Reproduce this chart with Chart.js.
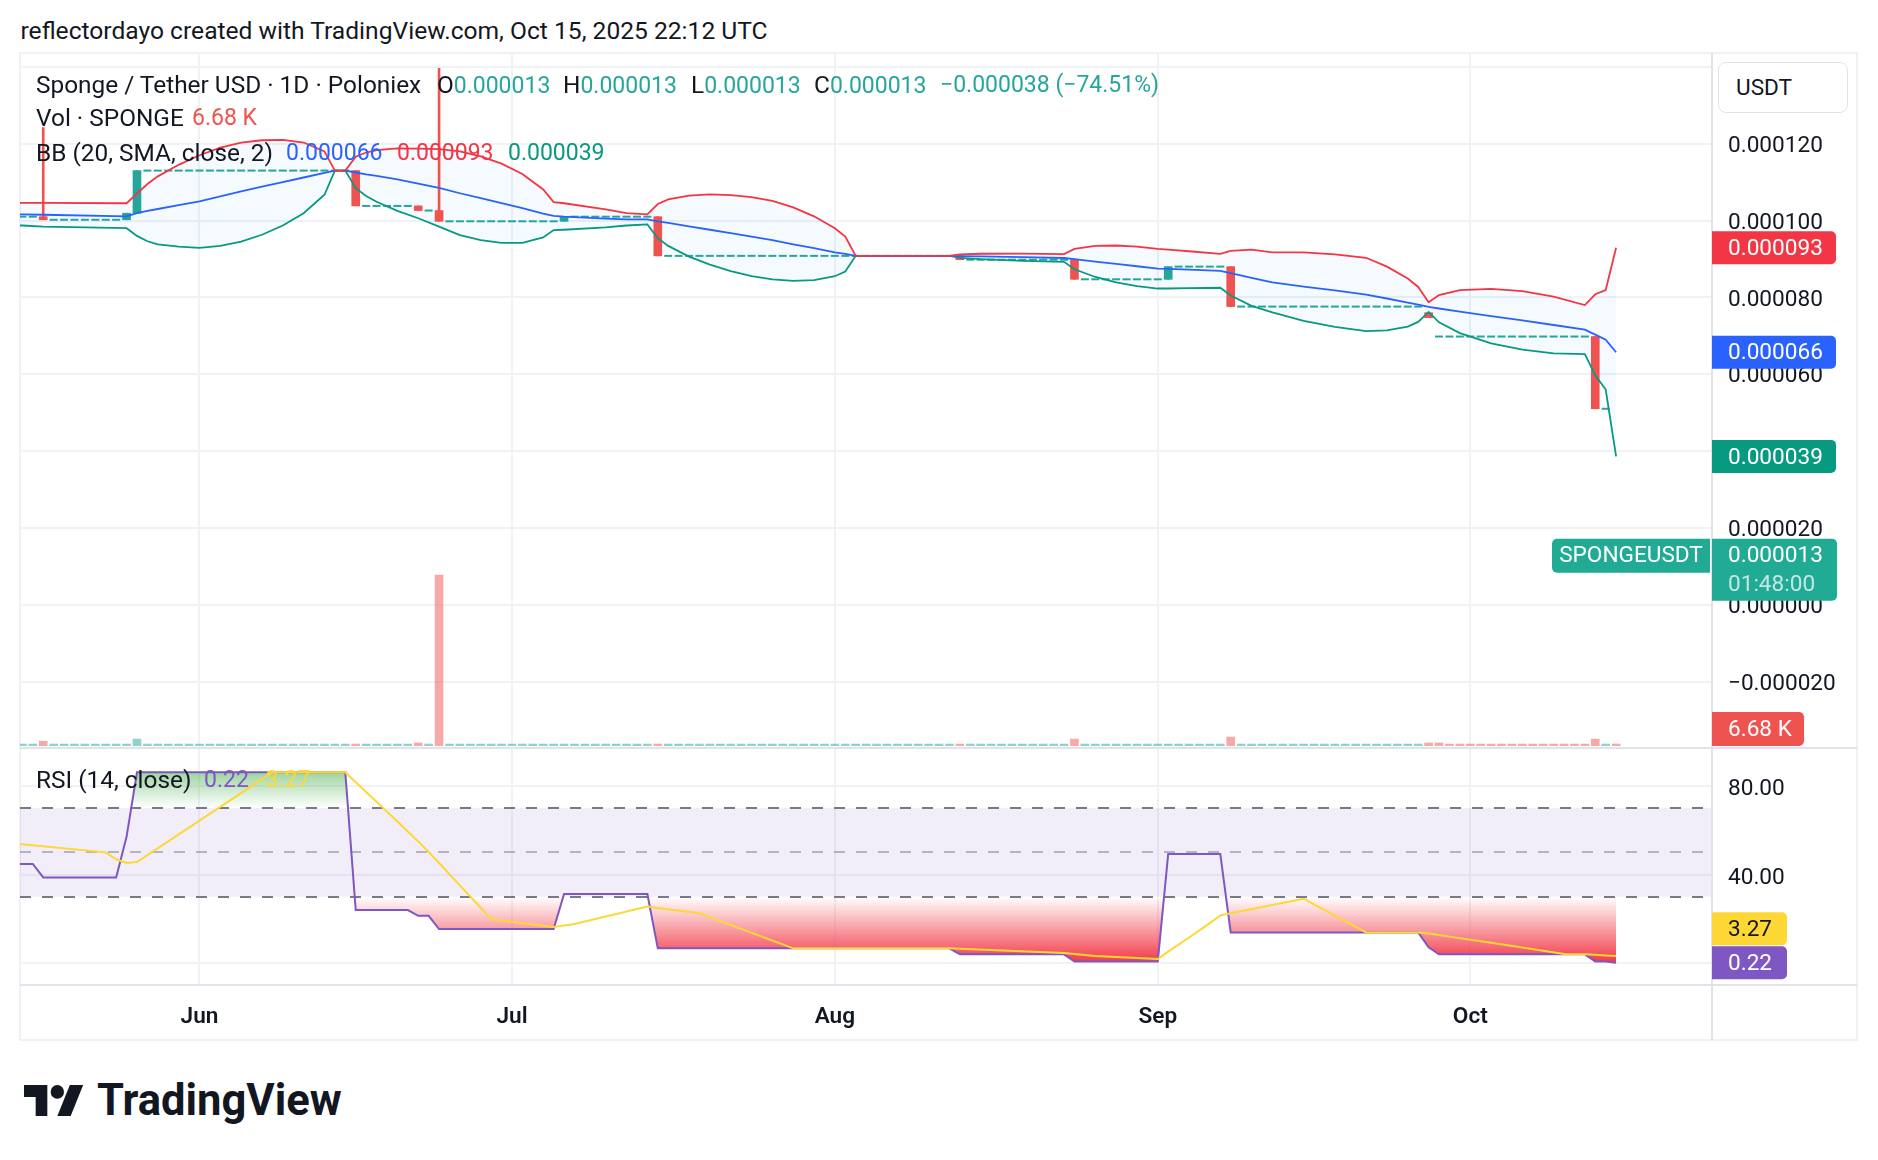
<!DOCTYPE html>
<html>
<head>
<meta charset="utf-8">
<title>SPONGEUSDT 1D</title>
<script src="https://cdn.jsdelivr.net/npm/chart.js@4.4.1/dist/chart.umd.min.js"></script>
<style>
  html, body { margin: 0; padding: 0; background: #ffffff; }
  body { position: relative; width: 1878px; height: 1160px; overflow: hidden;
         font-family: Roboto, "DejaVu Sans", sans-serif; color: #131722; }
  .t { position: absolute; white-space: nowrap; font-size: 24.4px; line-height: 28px; }
  .n { font-size: 23px; }
  .up { color: #26a69a; }
  .dn { color: #ef5350; }
  .ln { position: absolute; background: #e0e3eb; }
  .lt { position: absolute; background: #eff1f4; }
  canvas { position: absolute; }
  #usdt { position: absolute; left: 1718px; top: 62px; height: 49px; width: 111px;
          border: 1.5px solid #e0e3eb; border-radius: 8px; background: #fff;
          font-size: 22.6px; line-height: 49px; padding-left: 17px; }
  #logoText { position: absolute; left: 97px; top: 1076px; font-size: 43.5px; font-weight: 700;
              line-height: 50px; }
</style>
</head>
<body>

<!-- frame + pane separators (under the canvases) -->
<div class="lt" style="left:19px; top:52px; width:1839px; height:2px;"></div>
<div class="lt" style="left:19px; top:52px; width:1.5px; height:989px;"></div>
<div class="lt" style="left:1856px; top:52px; width:2px; height:989px;"></div>
<div class="lt" style="left:19px; top:1039px; width:1839px; height:2px;"></div>
<div class="ln" style="left:1711px; top:53px; width:2px; height:987px;"></div>
<div class="ln" style="left:20px; top:746.5px; width:1837px; height:2.5px;"></div>
<div class="ln" style="left:20px; top:984px; width:1837px; height:2px;"></div>

<canvas id="main" width="1837" height="693" style="left:20px; top:53px;"></canvas>
<canvas id="rsi" width="1837" height="291" style="left:20px; top:749px;"></canvas>

<div class="t" style="left:20.5px; top:16.5px; font-size:24.6px;">reflectordayo created with TradingView.com, Oct 15, 2025 22:12 UTC</div>

<div class="t" style="left:36px; top:71px;">Sponge / Tether USD · 1D · Poloniex</div>
<div class="t" style="left:437px; top:71px;">O<span class="up n" id="vO"></span></div>
<div class="t" style="left:563px; top:71px;">H<span class="up n" id="vH"></span></div>
<div class="t" style="left:691px; top:71px;">L<span class="up n" id="vL"></span></div>
<div class="t" style="left:814px; top:71px;">C<span class="up n" id="vC"></span></div>
<div class="t up n" style="left:940px; top:71px;" id="vChg"></div>

<div class="t" style="left:36px; top:104.3px;">Vol · SPONGE</div>
<div class="t dn n" style="left:192px; top:104.3px;" id="vVol"></div>

<div class="t" style="left:36px; top:139.3px;">BB (20, SMA, close, 2)</div>
<div class="t n" style="left:286px; top:139.3px; color:#2962ff;" id="vBasis"></div>
<div class="t n" style="left:397px; top:139.3px; color:#f23645;" id="vUpper"></div>
<div class="t n" style="left:508px; top:139.3px; color:#089981;" id="vLower"></div>

<div class="t" style="left:36px; top:766px;">RSI (14, close)</div>
<div class="t n" style="left:204px; top:766px; color:#7e57c2;" id="vRsi"></div>
<div class="t n" style="left:265.6px; top:766px; color:#fdd835;" id="vMa"></div>

<div id="usdt">USDT</div>

<svg style="position:absolute; left:24px; top:1085px;" width="60" height="31" viewBox="0 4 36 18" preserveAspectRatio="none">
  <path fill="#131722" d="M14 22H7V11H0V4h14v18z"/>
  <circle fill="#131722" cx="20" cy="8" r="4"/>
  <path fill="#131722" d="M28 22h-8l7.5-18h8L28 22z"/>
</svg>
<div id="logoText">TradingView</div>

<script>
// ----------------------------
// Data (prices in micro-USDT, i.e. 1e-6 USDT; days counted from 1 May 2025)
// ----------------------------
const firstDay = 14; // 15 May 2025

// daily closes, 15 May .. 15 Oct
const closes = [
  101.0, 101.0, 100.2, 100.2, 100.2, 100.2, 100.2, 100.2, 100.2, 100.2,   // d14-23
  101.9, 113.0, 113.0, 113.0, 113.0, 113.0, 113.0, 113.0, 113.0, 113.0,   // d24-33
  113.0, 113.0, 113.0, 113.0, 113.0, 113.0, 113.0, 113.0, 113.0, 113.0,   // d34-43
  113.0, 113.0, 103.8, 103.8, 103.8, 103.8, 103.8, 103.8, 102.6, 102.6,   // d44-53
  99.8, 99.8, 99.8, 99.8, 99.8, 99.8, 99.8, 99.8, 99.8, 99.8,             // d54-63
  99.8, 99.8, 101.0, 101.0, 101.0, 101.0, 101.0, 101.0, 101.0, 101.0,     // d64-73
  101.0, 90.8, 90.8, 90.8, 90.8, 90.8, 90.8, 90.8, 90.8, 90.8,            // d74-83
  90.8, 90.8, 90.8, 90.8, 90.8, 90.8, 90.8, 90.8, 90.8, 90.8,             // d84-93
  90.8, 90.8, 90.8, 90.8, 90.8, 90.8, 90.8, 90.8, 90.8, 90.8,             // d94-103
  89.8, 89.8, 89.8, 89.8, 89.8, 89.8, 89.8, 89.8, 89.8, 89.8,             // d104-113
  89.8, 84.7, 84.7, 84.7, 84.7, 84.7, 84.7, 84.7, 84.7, 84.7,             // d114-123
  88.0, 88.0, 88.0, 88.0, 88.0, 88.0, 77.6, 77.6, 77.6, 77.6,             // d124-133
  77.6, 77.6, 77.6, 77.6, 77.6, 77.6, 77.6, 77.6, 77.6, 77.6,             // d134-143
  77.6, 77.6, 77.6, 77.6, 77.6, 74.7, 69.8, 69.8, 69.8, 69.8,             // d144-153
  69.8, 69.8, 69.8, 69.8, 69.8, 69.8, 69.8, 69.8, 69.8, 69.8,             // d154-163
  69.8, 51.0, 51.0, 13.0                                                  // d164-167
];

// candles that actually moved (all other days are flat: O = H = L = C)
const moveDays  = [16, 24, 25, 46, 52, 54, 66, 75, 104, 115, 124, 130, 149, 165];
const moveOpens = [101.0, 100.2, 101.9, 113.0, 103.8, 102.6, 99.8, 101.0, 90.8, 89.8, 84.7, 88.0, 76.0, 69.8];
const moveHighs = [124.2, 101.9, 113.0, 113.0, 103.8, 139.6, 101.0, 101.0, 90.8, 89.8, 88.0, 88.0, 76.0, 69.8];
const moveLows  = [100.2, 100.2, 101.9, 103.8, 102.6, 99.8, 99.8, 90.8, 89.8, 84.7, 84.7, 77.6, 74.7, 51.0];

// daily volume (SPONGE)
const volumes = [
  6500, 6500, 16000, 6500, 6500, 6500, 6500, 6500, 6500, 6500,           // d14-23
  6500, 23000, 6500, 6500, 6500, 6500, 6500, 6500, 6500, 6500,           // d24-33
  6500, 6500, 6500, 6500, 6500, 6500, 6500, 6500, 6500, 6500,            // d34-43
  6500, 6500, 6500, 6500, 6500, 6500, 6500, 6500, 10000, 6500,           // d44-53
  570000, 6500, 6500, 6500, 6500, 6500, 6500, 6500, 6500, 6500,          // d54-63
  6500, 6500, 6500, 6500, 6500, 6500, 6500, 6500, 6500, 6500,            // d64-73
  6500, 6500, 6500, 6500, 6500, 6500, 6500, 6500, 6500, 6500,            // d74-83
  6500, 6500, 6500, 6500, 6500, 6500, 6500, 6500, 6500, 6500,            // d84-93
  6500, 6500, 6500, 6500, 6500, 6500, 6500, 6500, 6500, 6500,            // d94-103
  6500, 6500, 6500, 6500, 6500, 6500, 6500, 6500, 6500, 6500,            // d104-113
  6500, 23000, 6500, 6500, 6500, 6500, 6500, 6500, 6500, 6500,           // d114-123
  6500, 6500, 6500, 6500, 6500, 6500, 30000, 6500, 6500, 6500,           // d124-133
  6500, 6500, 6500, 6500, 6500, 6500, 6500, 6500, 6500, 6500,            // d134-143
  6500, 6500, 6500, 6500, 6500, 10000, 10000, 6500, 6500, 6500,          // d144-153
  6500, 6500, 6500, 6500, 6500, 6500, 6500, 6500, 6500, 6500,            // d154-163
  6500, 23000, 6500, 6680                                                // d164-167
];
const volumeDownDays = [16, 46, 52, 54, 75, 104, 115, 130, 149, 150, 151, 152, 153, 154, 155,
  156, 157, 158, 159, 160, 161, 162, 163, 164, 165, 167];

// Bollinger Bands (20, SMA, close, 2)
const bbDays  = [13, 14, 16, 24, 25, 26, 27, 29, 31, 33, 35, 37, 39, 41, 43, 44, 45, 46, 47, 48,
  50, 52, 54, 56, 58, 60, 62, 64, 65, 66, 70, 72, 74, 75, 76, 78, 80, 82, 84, 86,
  88, 90, 92, 93, 94, 103, 104, 106, 110, 114, 115, 117, 119, 121, 123, 124, 126, 129, 130, 132,
  134, 137, 140, 143, 145, 147, 148, 149, 150, 152, 155, 158, 161, 164, 165, 166, 167];
const bbUpper = [104.6, 104.6, 104.6, 104.5, 107.0, 109.5, 111.5, 114.5, 117.0, 119.0, 120.3, 120.9, 121.0, 120.3, 118.0, 113.0, 113.0, 116.6, 117.7, 118.3,
  118.8, 118.7, 118.6, 118.0, 116.7, 114.8, 112.1, 108.1, 104.8, 104.5, 102.9, 101.9, 101.6, 104.3, 105.5, 106.5, 106.8, 106.6, 106.1, 105.1,
  103.4, 101.1, 98.0, 95.8, 90.8, 90.8, 91.2, 91.35, 91.4, 91.25, 92.6, 93.4, 93.5, 93.2, 92.6, 92.4, 92.0, 91.3, 92.1, 92.4,
  91.7, 91.7, 91.2, 90.3, 88.0, 84.9, 82.7, 78.7, 80.6, 81.9, 82.2, 81.6, 80.2, 78.0, 80.8, 81.9, 92.9];
const bbBasis = [101.6, 101.6, 101.5, 101.1, 101.9, 102.5, 103.0, 104.0, 105.0, 106.3, 107.6, 108.8, 110.0, 111.2, 112.4, 113.0, 113.0, 112.5, 112.0, 111.6,
  110.7, 109.6, 108.5, 107.1, 105.8, 104.5, 103.2, 101.8, 101.2, 101.0, 100.5, 100.3, 100.3, 99.8, 99.4, 98.5, 97.6, 96.7, 95.8, 94.9,
  93.8, 92.8, 91.7, 91.3, 90.8, 90.8, 90.75, 90.65, 90.45, 90.25, 89.95, 89.3, 88.7, 88.1, 87.5, 87.4, 87.2, 86.9, 86.3, 85.1,
  83.9, 82.8, 81.8, 80.7, 79.7, 78.6, 78.1, 77.5, 77.1, 76.3, 75.1, 74.0, 72.8, 71.6, 70.3, 69.0, 65.7];
const bbLower = [98.7, 98.7, 98.4, 98.0, 96.0, 94.6, 93.8, 93.2, 92.9, 93.4, 94.5, 96.3, 98.7, 101.9, 106.7, 113.0, 113.0, 108.4, 106.4, 104.9,
  102.5, 100.6, 98.4, 96.2, 94.9, 94.2, 94.2, 95.6, 97.5, 97.6, 98.2, 98.7, 99.0, 95.4, 93.4, 90.6, 88.5, 86.8, 85.5, 84.7,
  84.3, 84.5, 85.5, 86.7, 90.8, 90.8, 90.3, 89.95, 89.5, 89.25, 87.3, 85.3, 83.9, 82.9, 82.3, 82.3, 82.4, 82.5, 80.5, 77.8,
  76.1, 73.9, 72.3, 71.2, 71.4, 72.4, 73.6, 76.2, 73.5, 70.7, 68.0, 66.4, 65.4, 65.2, 59.7, 56.0, 38.6];

// RSI (14, close) and its 14-period SMA
const rsiDays   = [13, 15, 16, 23, 24, 25, 45, 46, 51, 52, 53, 54, 65, 66, 74, 75, 103, 104, 114, 115,
  123, 124, 129, 130, 148, 149, 150, 164, 165, 166, 167];
const rsiValues = [44.8, 44.8, 38.7, 38.7, 57.0, 86.1, 86.1, 24.0, 24.0, 21.4, 21.4, 15.4, 15.4, 31.2, 31.2, 6.7, 6.7, 4.0, 4.0, 0.8,
  0.8, 49.3, 49.3, 13.9, 13.9, 7.2, 4.0, 4.0, 0.8, 0.8, 0.22];
const maDays   = [13, 14, 22, 23, 24, 25, 38, 45, 46, 48, 50, 52, 53, 54, 56, 58, 59, 60, 63, 64,
  65, 66, 67, 74, 75, 79, 88, 103, 104, 114, 115, 116, 117, 123, 124, 126, 128, 129, 130, 137,
  138, 143, 148, 149, 150, 151, 155, 158, 162, 163, 164, 165, 166, 167];
const maValues = [54.0, 53.6, 50.0, 46.9, 45.2, 45.6, 86.1, 86.1, 81.6, 72.8, 63.9, 54.9, 50.2, 45.2, 35.1, 25.0, 19.9, 19.3, 17.5, 16.9,
  16.3, 17.0, 17.7, 25.6, 24.9, 22.5, 6.7, 6.7, 6.5, 4.6, 4.2, 3.7, 3.3, 1.9, 5.2, 11.6, 18.1, 21.6, 22.5, 29.1,
  26.5, 13.9, 13.9, 13.4, 12.7, 12.0, 9.2, 7.1, 4.2, 4.0, 4.0, 3.8, 3.5, 3.27];

// axes
const monthTicks  = [31, 61, 92, 123, 153];
const monthLabels = ['Jun', 'Jul', 'Aug', 'Sep', 'Oct'];
const priceTicks  = [-20, 0, 20, 40, 60, 80, 100, 120, 140];
const hiddenPriceLabels = [140]; // sits under the currency box
const rsiTicks    = [0, 40, 80];
const rsiLevels   = [70, 50, 30];

// ----------------------------
// Helpers / styles
// ----------------------------
const UP = '#26a69a', DOWN = '#ef5350';
const VOL_UP = 'rgba(38,166,154,0.5)', VOL_DOWN = 'rgba(239,83,80,0.5)';
const FONT = 'Roboto';
const GRID = '#f0f2f5';
const last = a => a[a.length - 1];
function fmtPrice(v) {
  const s = (Math.abs(v) / 1e6).toFixed(6);
  return (v < -1e-9 ? '\u2212' : '') + s;
}

const xRange = { min: 13.77, max: 176.11 };

Chart.defaults.font.family = FONT;
Chart.defaults.color = '#131722';

function roundBox(ctx, x, y, w, h, r, color) {
  ctx.fillStyle = color;
  ctx.beginPath();
  ctx.roundRect(x, y, w, h, r);
  ctx.fill();
}
function badgeText(ctx, text, x, y, color) {
  ctx.fillStyle = color;
  ctx.font = '22.6px ' + FONT;
  ctx.textAlign = 'left';
  ctx.textBaseline = 'middle';
  ctx.fillText(text, x, y + 1.5);
}

// ----------------------------
// Main pane: candles, BB, volume
// ----------------------------
const dayOf = i => firstDay + i;
const wickData = moveDays.map((d, i) => ({ x: d, y: [moveLows[i], moveHighs[i]] }));
const bodyData = moveDays.map((d, i) => ({ x: d, y: [moveOpens[i], closes[d - firstDay]] }));
const bodyColors = moveDays.map((d, i) => closes[d - firstDay] >= moveOpens[i] ? UP : DOWN);
const flatData = closes.map((c, i) => ({ x: dayOf(i), y: c })).filter(p => !moveDays.includes(p.x));
const volData = volumes.map((v, i) => ({ x: dayOf(i), y: v }));
const volColors = volData.map(p => volumeDownDays.includes(p.x) ? VOL_DOWN : VOL_UP);
const bb = arr => bbDays.map((d, i) => ({ x: d, y: arr[i] }));

const mainBadges = {
  id: 'mainBadges',
  afterDraw(chart) {
    const { ctx, chartArea: a, scales } = chart;
    const y = scales.y, yv = scales.yv;
    const x0 = a.right + 1, tx = a.right + 17;
    ctx.save();
    [[last(bbUpper), '#f23645'], [last(bbBasis), '#2962ff'], [last(bbLower), '#089981']].forEach(([v, c]) => {
      const py = y.getPixelForValue(v);
      roundBox(ctx, x0, py - 16.5, 124, 33, [0, 5, 5, 0], c);
      badgeText(ctx, fmtPrice(v), tx, py, '#ffffff');
    });
    // last price + countdown, symbol tag
    const pc = y.getPixelForValue(last(closes));
    roundBox(ctx, x0, pc - 16, 125, 62, [0, 5, 5, 0], '#22ab94');
    badgeText(ctx, fmtPrice(last(closes)), tx, pc, '#ffffff');
    badgeText(ctx, '01:48:00', tx, pc + 29, 'rgba(255,255,255,0.72)');
    roundBox(ctx, a.right - 159, pc - 16, 158, 34, [5, 0, 0, 5], '#22ab94');
    ctx.font = '22.6px ' + FONT;
    ctx.textAlign = 'center';
    ctx.textBaseline = 'middle';
    ctx.fillStyle = '#ffffff';
    ctx.fillText('SPONGEUSDT', a.right - 80, pc + 2);
    // last volume
    const pv = Math.min(yv.getPixelForValue(last(volumes)), a.bottom - 17);
    roundBox(ctx, x0, pv - 17, 92, 34, [0, 5, 5, 0], '#ef5350');
    badgeText(ctx, (last(volumes) / 1000).toFixed(2) + ' K', tx, pv, '#ffffff');
    ctx.restore();
  }
};

const mainChart = new Chart(document.getElementById('main'), {
  type: 'line',
  data: {
    datasets: [
      { data: bb(bbUpper), borderColor: '#f23645', borderWidth: 1.8, pointRadius: 0, fill: false },
      { data: bb(bbBasis), borderColor: '#2962ff', borderWidth: 1.8, pointRadius: 0, fill: false },
      { data: bb(bbLower), borderColor: '#089981', borderWidth: 1.8, pointRadius: 0,
        fill: '-2', backgroundColor: 'rgba(33,150,243,0.05)' },
      { type: 'bar', data: wickData, backgroundColor: bodyColors, barThickness: 2, grouped: false },
      { type: 'bar', data: bodyData, backgroundColor: bodyColors, barThickness: 8, grouped: false },
      { data: flatData, showLine: false, pointStyle: 'line', pointRadius: 4, pointBorderWidth: 2,
        pointBorderColor: UP, pointBackgroundColor: UP },
      { type: 'bar', data: volData, yAxisID: 'yv', backgroundColor: volColors, barThickness: 8, grouped: false }
    ]
  },
  options: {
    responsive: false,
    animation: false,
    devicePixelRatio: 1,
    events: [],
    layout: { padding: 0, autoPadding: false },
    plugins: { legend: { display: false }, tooltip: { enabled: false }, filler: { drawTime: 'beforeDatasetsDraw' } },
    scales: {
      x: {
        type: 'linear', min: xRange.min, max: xRange.max, offset: false,
        grid: { color: GRID, lineWidth: 2, drawTicks: false, offset: false },
        border: { display: false },
        ticks: { display: false, autoSkip: false },
        afterBuildTicks: s => { s.ticks = monthTicks.map(v => ({ value: v })); },
        afterFit: s => { s.height = 0; s.paddingLeft = 0; s.paddingRight = 0; }
      },
      y: {
        position: 'right', min: -36.79, max: 143.61,
        grid: { color: GRID, lineWidth: 2, drawTicks: false },
        border: { display: false },
        ticks: { padding: 17, labelOffset: 2.5, color: '#131722', font: { size: 22.6 },
                 callback: v => hiddenPriceLabels.includes(v) ? '' : fmtPrice(v) },
        afterBuildTicks: s => { s.ticks = priceTicks.map(v => ({ value: v })); },
        afterFit: s => { s.width = 146; s.paddingTop = 0; s.paddingBottom = 0; }
      },
      yv: { display: false, min: 0, max: 2310000 }
    }
  },
  plugins: [mainBadges]
});

// ----------------------------
// RSI pane
// ----------------------------
const rsiGuides = {
  id: 'rsiGuides',
  beforeDatasetsDraw(chart) {
    const { ctx, chartArea: a, scales: { y } } = chart;
    const top = y.getPixelForValue(rsiLevels[0]), bot = y.getPixelForValue(rsiLevels[2]);
    ctx.save();
    ctx.fillStyle = 'rgba(126,87,194,0.1)';
    ctx.fillRect(a.left, top, a.right - a.left, bot - top);
    ctx.setLineDash([11, 11]);
    ctx.lineWidth = 2;
    rsiLevels.forEach(v => {
      const py = Math.round(y.getPixelForValue(v));
      ctx.strokeStyle = v === 50 ? 'rgba(120,123,134,0.5)' : '#787b86';
      ctx.beginPath();
      ctx.moveTo(a.left, py);
      ctx.lineTo(a.right, py);
      ctx.stroke();
    });
    ctx.restore();
  }
};

const rsiBadges = {
  id: 'rsiBadges',
  afterDraw(chart) {
    const { ctx, chartArea: a, scales: { y } } = chart;
    const x0 = a.right + 1, tx = a.right + 17;
    ctx.save();
    const pr = y.getPixelForValue(last(rsiValues));
    const pm = Math.min(y.getPixelForValue(last(maValues)), pr - 34);
    roundBox(ctx, x0, pm - 16.5, 75, 33, [0, 5, 5, 0], '#fdd835');
    badgeText(ctx, last(maValues).toFixed(2), tx, pm, '#131722');
    roundBox(ctx, x0, pr - 16.5, 75, 33, [0, 5, 5, 0], '#7e57c2');
    badgeText(ctx, last(rsiValues).toFixed(2), tx, pr, '#ffffff');
    ctx.restore();
  }
};

const rsiPts = rsiDays.map((d, i) => ({ x: d, y: rsiValues[i] }));
const maPts = maDays.map((d, i) => ({ x: d, y: maValues[i] }));
const CLEAR = 'rgba(0,0,0,0)';

const rsiChart = new Chart(document.getElementById('rsi'), {
  type: 'line',
  data: {
    datasets: [
      { data: maPts, borderColor: '#fdd835', borderWidth: 2, pointRadius: 0, fill: false },
      { data: rsiPts, borderColor: '#7e57c2', borderWidth: 2, pointRadius: 0,
        fill: { target: { value: 70 }, above: CLEAR, below: CLEAR } },
      { data: rsiPts, borderColor: CLEAR, borderWidth: 0, pointRadius: 0,
        fill: { target: { value: 30 }, above: CLEAR, below: CLEAR } }
    ]
  },
  options: {
    responsive: false,
    animation: false,
    devicePixelRatio: 1,
    events: [],
    layout: { padding: 0, autoPadding: false },
    plugins: { legend: { display: false }, tooltip: { enabled: false }, filler: { drawTime: 'beforeDatasetsDraw' } },
    scales: {
      x: {
        type: 'linear', min: xRange.min, max: xRange.max, offset: false,
        grid: { color: GRID, lineWidth: 2, drawTicks: false, offset: false },
        border: { display: false },
        ticks: { padding: 19.5, autoSkip: false, maxRotation: 0, color: '#131722',
                 font: { size: 22.6, weight: '600' },
                 callback: v => monthLabels[monthTicks.indexOf(v)] },
        afterBuildTicks: s => { s.ticks = monthTicks.map(v => ({ value: v })); },
        afterFit: s => { s.height = 56; s.paddingLeft = 0; s.paddingRight = 0; }
      },
      y: {
        position: 'right', min: -9.37, max: 96.61,
        grid: { color: GRID, lineWidth: 2, drawTicks: false },
        border: { display: false },
        ticks: { padding: 17, labelOffset: 3.5, color: '#131722', font: { size: 22.6 },
                 callback: v => v.toFixed(2) },
        afterBuildTicks: s => { s.ticks = rsiTicks.map(v => ({ value: v })); },
        afterFit: s => { s.width = 146; s.paddingTop = 0; s.paddingBottom = 0; }
      }
    }
  },
  plugins: [rsiGuides, rsiBadges]
});

// gradient fills beyond the 70 / 30 levels, built from the RSI scale
const ys = rsiChart.scales.y, rctx = rsiChart.ctx;
const greenGrad = rctx.createLinearGradient(0, ys.getPixelForValue(100), 0, ys.getPixelForValue(70));
greenGrad.addColorStop(0, 'rgba(76,175,80,1)');
greenGrad.addColorStop(1, 'rgba(76,175,80,0)');
const redGrad = rctx.createLinearGradient(0, ys.getPixelForValue(30), 0, ys.getPixelForValue(0));
redGrad.addColorStop(0, 'rgba(242,54,69,0)');
redGrad.addColorStop(1, 'rgba(242,54,69,1)');
rsiChart.data.datasets[1].fill = { target: { value: 70 }, above: greenGrad, below: CLEAR };
rsiChart.data.datasets[2].fill = { target: { value: 30 }, above: CLEAR, below: redGrad };
rsiChart.update();

// ----------------------------
// Legend values
// ----------------------------
const lastClose = last(closes), prevClose = closes[closes.length - 2];
['vO', 'vH', 'vL', 'vC'].forEach(id => { document.getElementById(id).textContent = fmtPrice(lastClose); });
const chg = lastClose - prevClose;
document.getElementById('vChg').textContent =
  fmtPrice(chg) + ' (' + (chg < 0 ? '\u2212' : '') + Math.abs(chg / prevClose * 100).toFixed(2) + '%)';
document.getElementById('vVol').textContent = (last(volumes) / 1000).toFixed(2) + ' K';
document.getElementById('vBasis').textContent = fmtPrice(last(bbBasis));
document.getElementById('vUpper').textContent = fmtPrice(last(bbUpper));
document.getElementById('vLower').textContent = fmtPrice(last(bbLower));
document.getElementById('vRsi').textContent = last(rsiValues).toFixed(2);
document.getElementById('vMa').textContent = last(maValues).toFixed(2);
</script>
</body>
</html>
